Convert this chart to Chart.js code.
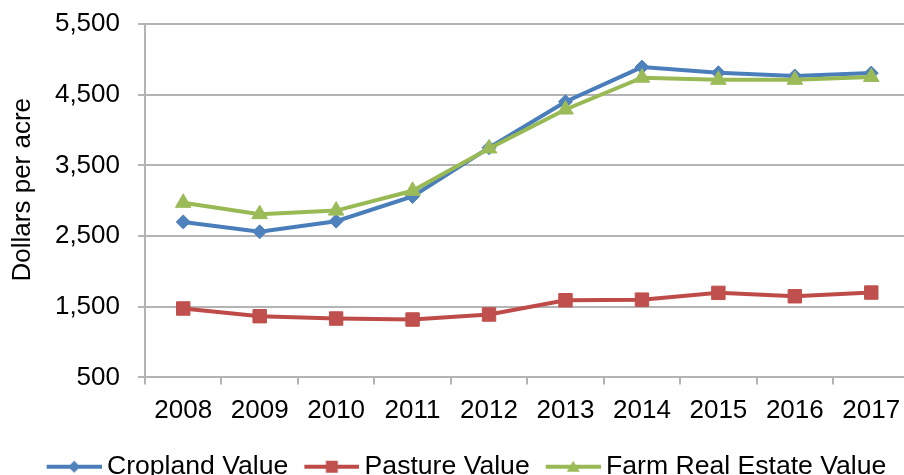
<!DOCTYPE html>
<html>
<head>
<meta charset="utf-8">
<script src="https://cdn.jsdelivr.net/npm/chart.js@4/dist/chart.umd.min.js"></script>
<style>
  html, body { margin: 0; padding: 0; background: #fff; overflow: hidden; }
  #wrap { width: 920px; height: 475px; }
</style>
</head>
<body>
<div id="wrap"><canvas id="chart" width="920" height="475"></canvas></div>
<script>
// values (dollars per acre)
const years = ['2008', '2009', '2010', '2011', '2012', '2013', '2014', '2015', '2016', '2017'];
const cropland = [2700, 2560, 2710, 3060, 3750, 4400, 4890, 4810, 4765, 4805];
const pasture = [1475, 1366, 1333, 1319, 1390, 1592, 1600, 1696, 1648, 1700];
const farmRealEstate = [2970, 2810, 2860, 3140, 3740, 4290, 4740, 4710, 4710, 4750];

const yMin = 500;
const yMax = 5500;
const yStep = 1000;

const FONT = '"Liberation Sans", Arial, sans-serif';
const GRID = '#b4b4b4';

// small legend glyph: line with the marker in the middle
function legendMarker(lineColor, fillColor, shape) {
    const c = document.createElement('canvas');
    c.width = 69;
    c.height = 22;
    const g = c.getContext('2d');
    g.strokeStyle = lineColor;
    g.lineWidth = 4;
    g.beginPath();
    g.moveTo(14, 11);
    g.lineTo(69, 11);
    g.stroke();
    g.fillStyle = fillColor;
    const cx = 41.5, cy = 11;
    g.beginPath();
    if (shape === 'diamond') {
        g.moveTo(cx, cy - 6);
        g.lineTo(cx + 6, cy);
        g.lineTo(cx, cy + 6);
        g.lineTo(cx - 6, cy);
    } else if (shape === 'square') {
        g.rect(cx - 6, cy - 6, 12, 12);
    } else {
        g.moveTo(cx, cy - 6);
        g.lineTo(cx + 6.5, cy + 5);
        g.lineTo(cx - 6.5, cy + 5);
    }
    g.closePath();
    g.fill();
    return c;
}

const legendIcons = [
    legendMarker('#4a7ebb', '#4f81bd', 'diamond'),
    legendMarker('#be4b48', '#c0504d', 'square'),
    legendMarker('#98b954', '#9bbb59', 'triangle'),
];

// nudges the legend and the axis title to where the original has them
const placement = {
    id: 'placement',
    afterLayout(chart) {
        const lg = chart.legend;
        if (lg) {
            lg.left += 6;
            lg.right += 6;
            lg.top += 15;
            lg.bottom += 15;
        }
        const y = chart.scales.y;
        if (y && !y._titleMoved) {
            const draw = y.drawTitle.bind(y);
            y.drawTitle = function () {
                y.ctx.save();
                y.ctx.translate(0, -11);
                draw();
                y.ctx.restore();
            };
            y._titleMoved = true;
        }
    }
};

const ctx = document.getElementById('chart').getContext('2d');
new Chart(ctx, {
    type: 'line',
    data: {
        labels: years,
        datasets: [
            {
                label: 'Cropland Value',
                data: cropland,
                borderColor: '#4a7ebb',
                backgroundColor: '#4f81bd',
                pointBackgroundColor: '#4f81bd',
                pointBorderColor: '#4f81bd',
                pointStyle: 'rectRot',
                pointRadius: 7,
                order: 3,
            },
            {
                label: 'Pasture Value',
                data: pasture,
                borderColor: '#be4b48',
                backgroundColor: '#c0504d',
                pointBackgroundColor: '#c0504d',
                pointBorderColor: '#c0504d',
                pointStyle: 'rect',
                pointRadius: 9.5,
                order: 2,
            },
            {
                label: 'Farm Real Estate Value',
                data: farmRealEstate,
                borderColor: '#98b954',
                backgroundColor: '#9bbb59',
                pointBackgroundColor: '#9bbb59',
                pointBorderColor: '#9bbb59',
                pointStyle: 'triangle',
                pointRadius: 9,
                order: 1,
            },
        ],
    },
    options: {
        responsive: false,
        animation: false,
        devicePixelRatio: 1,
        layout: { padding: { top: 24, right: 5, left: 0, bottom: 0 } },
        elements: {
            line: { borderWidth: 4, tension: 0, fill: false },
            point: { borderWidth: 1, hoverRadius: 7 },
        },
        plugins: {
            tooltip: { enabled: false },
            legend: {
                position: 'bottom',
                align: 'center',
                labels: {
                    usePointStyle: true,
                    pointStyleWidth: 53,
                    padding: 10,
                    color: '#000',
                    font: { family: FONT, size: 26.6 },
                    sort: (a, b) => a.datasetIndex - b.datasetIndex,
                    generateLabels(chart) {
                        const items = Chart.defaults.plugins.legend.labels.generateLabels(chart);
                        items.forEach(item => { item.pointStyle = legendIcons[item.datasetIndex]; });
                        return items;
                    },
                },
            },
        },
        scales: {
            x: {
                offset: true,
                grid: {
                    offset: true,
                    drawOnChartArea: false,
                    drawTicks: true,
                    tickLength: 7,
                    color: GRID,
                    lineWidth: 2,
                },
                border: { display: true, color: GRID, width: 2 },
                ticks: {
                    color: '#000',
                    font: { family: FONT, size: 26 },
                    padding: 11,
                    maxRotation: 0,
                    autoSkip: false,
                },
                afterFit(scale) { scale.height = 51; },
            },
            y: {
                min: yMin,
                max: yMax,
                grid: {
                    color: GRID,
                    lineWidth: 2,
                    tickLength: 7,
                },
                border: { display: true, color: GRID, width: 2 },
                ticks: {
                    stepSize: yStep,
                    color: '#000',
                    font: { family: FONT, size: 26 },
                    padding: 18,
                    callback: v => v.toLocaleString('en-US'),
                },
                title: {
                    display: true,
                    text: 'Dollars per acre',
                    color: '#000',
                    font: { family: FONT, size: 26 },
                    padding: { top: 7, bottom: 0 },
                },
                afterFit(scale) {
                    scale.width = 145;
                    scale.paddingTop = 0;
                    scale.paddingBottom = 0;
                },
            },
        },
    },
    plugins: [placement],
});
</script>
</body>
</html>
